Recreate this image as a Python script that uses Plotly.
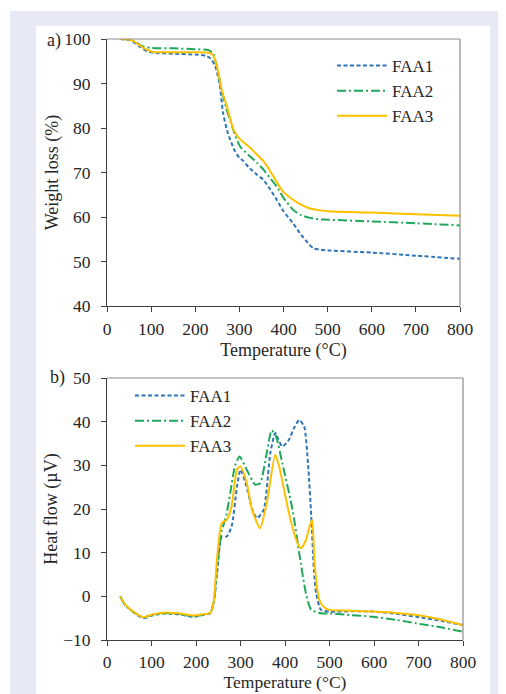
import plotly.graph_objects as go

# ---------------- Data ----------------
tga_t1 = [30, 50, 60, 75, 90, 105, 150, 200, 225, 235, 245, 255, 263, 272, 279, 290, 300, 309, 320, 340, 354, 370, 385, 400, 420, 437, 455, 467, 480, 500, 600, 700, 800]
tga_v1 = [100, 99.8, 99.3, 98.2, 97.3, 96.9, 96.7, 96.5, 96.2, 95.6, 94.0, 90.0, 83.4, 79.5, 77.4, 74.8, 73.3, 72.6, 71.3, 69.5, 68.4, 66.2, 63.8, 61.3, 58.8, 56.4, 54.2, 53.0, 52.7, 52.5, 52.0, 51.3, 50.6]

tga_t2 = [30, 50, 65, 80, 100, 150, 200, 230, 240, 250, 260, 270, 280, 290, 302, 320, 340, 355, 370, 385, 400, 422, 440, 460, 480, 500, 600, 700, 800]
tga_v2 = [100, 99.9, 99.3, 98.4, 98.0, 97.9, 97.7, 97.5, 96.8, 93.5, 88.5, 84.5, 81.5, 78.5, 75.8, 74.0, 72.2, 70.6, 68.7, 66.8, 64.3, 61.6, 60.4, 59.8, 59.5, 59.4, 59.0, 58.6, 58.1]

tga_t3 = [30, 50, 60, 75, 90, 105, 150, 200, 230, 240, 250, 260, 272, 286, 300, 324, 340, 354, 370, 385, 399, 420, 440, 460, 476, 500, 600, 700, 800]
tga_v3 = [100, 99.9, 99.5, 98.5, 97.6, 97.1, 97.0, 97.0, 96.9, 96.4, 93.5, 88.5, 84.8, 79.8, 77.6, 75.6, 74.0, 72.6, 70.3, 67.8, 65.7, 64.0, 62.8, 61.9, 61.6, 61.3, 61.0, 60.6, 60.3]

dta_t1 = [30, 40, 60, 82, 100, 130, 160, 195, 215, 232, 240, 248, 258, 269, 280, 292, 300, 314, 326, 337, 352, 367, 378, 385, 394, 409, 420, 432, 443, 452, 459, 465, 470, 481, 500, 550, 598, 650, 696, 750, 800]
dta_v1 = [0, -1.9, -3.7, -5.0, -4.4, -3.9, -4.1, -4.7, -4.3, -3.9, -1.5, 6.0, 13.7, 13.7, 16.0, 25.0, 29.0, 25.0, 20.0, 17.9, 19.8, 32.8, 37.4, 36.0, 34.3, 35.9, 38.5, 40.4, 38.9, 30.0, 18.3, 6.0, 0.7, -3.1, -3.5, -3.4, -3.5, -4.0, -4.7, -5.6, -6.6]

dta_t2 = [30, 40, 60, 82, 100, 130, 160, 195, 215, 232, 240, 248, 258, 268, 277, 288, 298, 314, 333, 344, 359, 370, 380, 394, 417, 432, 447, 459, 481, 500, 550, 598, 650, 696, 750, 800]
dta_v2 = [0, -1.9, -3.6, -4.8, -4.3, -3.9, -4.0, -4.6, -4.2, -3.8, -1.0, 7.5, 15.0, 18.5, 23.7, 30.0, 32.0, 29.0, 25.6, 25.9, 32.8, 38.0, 36.6, 30.5, 19.8, 9.9, 0.7, -3.1, -3.9, -3.9, -4.3, -4.7, -5.4, -6.2, -7.1, -8.1]

dta_t3 = [30, 40, 60, 82, 100, 130, 160, 195, 215, 232, 240, 247, 258, 269, 280, 292, 300, 314, 326, 344, 359, 378, 387, 409, 425, 436, 447, 455, 461, 466, 472, 477, 488, 500, 550, 598, 650, 696, 750, 800]
dta_v3 = [0, -1.8, -3.6, -4.8, -4.2, -3.7, -3.9, -4.4, -4.1, -3.8, -1.0, 8.4, 16.8, 17.5, 20.6, 29.0, 29.8, 26.0, 19.8, 15.6, 21.4, 32.4, 29.7, 19.0, 13.0, 11.0, 12.9, 16.0, 17.5, 8.3, 2.0, -0.8, -2.5, -3.1, -3.3, -3.5, -3.8, -4.3, -5.3, -6.6]

series_names = ["FAA1", "FAA2", "FAA3"]
x_ticks = [0, 100, 200, 300, 400, 500, 600, 700, 800]
tga_ticks = [40, 50, 60, 70, 80, 90, 100]
dta_ticks = [-10, 0, 10, 20, 30, 40, 50]

# ---------------- Styling ----------------
OFF = 8  # page body margin
PAGE_W, PAGE_H = 506, 694
EXTRA = 12  # room below the page edge so the lower axis title is not squeezed
W, H = PAGE_W - OFF, PAGE_H - OFF + EXTRA
# plot area in page pixels
P_L, P_R, P_T, P_B = 107, 463, 39, 640
ML, MR, MT, MB = P_L - OFF, W - (P_R - OFF), P_T - OFF, H - (P_B - OFF)
PW, PH = W - ML - MR, H - MT - MB
FONT = "Liberation Serif"
TXT = "#262626"
colors = ["#2e75b6", "#1fa85a", "#ffc000"]
dashes = ["4px,2.5px", "9px,3px,2px,3px", "solid"]


def px_x(p):
    return (p - OFF - ML) / PW


def px_y(p):
    return (H - MB - (p - OFF)) / PH


fig = go.Figure()

tga = [(tga_t1, tga_v1), (tga_t2, tga_v2), (tga_t3, tga_v3)]
dta = [(dta_t1, dta_v1), (dta_t2, dta_v2), (dta_t3, dta_v3)]

for i, (t, v) in enumerate(tga):
    fig.add_trace(go.Scatter(
        x=t, y=v, mode="lines", name=series_names[i], xaxis="x", yaxis="y",
        line=dict(color=colors[i], width=2, dash=dashes[i], shape="spline", smoothing=0.6),
        legend="legend"))
for i, (t, v) in enumerate(dta):
    fig.add_trace(go.Scatter(
        x=t, y=v, mode="lines", name=series_names[i], xaxis="x2", yaxis="y2",
        line=dict(color=colors[i], width=2, dash=dashes[i], shape="spline", smoothing=0.6),
        legend="legend2"))

dom_a = [px_y(306), px_y(39)]
dom_b = [px_y(640), px_y(378)]

TICK_FONT = dict(family=FONT, size=17.5, color=TXT)
TITLE_FONT = dict(family=FONT, size=18, color=TXT)
TITLE_FONT_B = dict(family=FONT, size=17.5, color=TXT)
LEG_FONT = dict(family=FONT, size=17, color=TXT)

axis_common = dict(
    showgrid=False, zeroline=False, showline=True, linecolor="#404040", linewidth=1,
    ticks="outside", ticklen=5, tickcolor="#404040", tickwidth=1,
    tickfont=TICK_FONT, automargin=False,
)

fig.update_layout(
    width=W, height=H,
    margin=dict(l=ML, r=MR, t=MT, b=MB, autoexpand=False),
    paper_bgcolor="white", plot_bgcolor="white",
    showlegend=True,
    xaxis=dict(domain=[0, px_x(460)], range=[0, 800], tickvals=x_ticks, anchor="y", ticklabelstandoff=2,
               title=dict(text="Temperature (°C)", font=TITLE_FONT, standoff=5),
               **axis_common),
    yaxis=dict(domain=dom_a, range=[40, 100], tickvals=tga_ticks, anchor="x", ticklabelstandoff=7,
               title=dict(text="Weight loss (%)", font=TITLE_FONT, standoff=0),
               **axis_common),
    xaxis2=dict(domain=[0, 1], range=[0, 800], tickvals=x_ticks, anchor="y2", ticklabelstandoff=1,
                title=dict(text="Temperature (°C)", font=TITLE_FONT_B, standoff=3),
                **axis_common),
    yaxis2=dict(domain=dom_b, range=[-10, 50], tickvals=dta_ticks, anchor="x2", ticklabelstandoff=7,
                title=dict(text="Heat flow (µV)", font=TITLE_FONT, standoff=0),
                **axis_common),
    legend=dict(x=px_x(332), y=px_y(48), xanchor="left", yanchor="top",
                bgcolor="rgba(0,0,0,0)", font=LEG_FONT, tracegroupgap=0, itemwidth=50),
    legend2=dict(x=px_x(130), y=px_y(378), xanchor="left", yanchor="top",
                 bgcolor="rgba(0,0,0,0)", font=LEG_FONT, tracegroupgap=0, itemwidth=50),
)

shapes = [
    # outer light band
    dict(type="rect", xref="paper", yref="paper", x0=px_x(10), x1=px_x(PAGE_W + 20), y0=px_y(PAGE_H + 30), y1=px_y(11),
         fillcolor="#e7eaf5", line=dict(width=0), layer="below"),
    # white panel
    dict(type="rect", xref="paper", yref="paper", x0=px_x(36), x1=px_x(490), y0=px_y(PAGE_H + 30), y1=px_y(26),
         fillcolor="white", line=dict(width=0), layer="below"),
]
for xr, yr in [("x", "y"), ("x2", "y2")]:
    shapes.append(dict(type="line", xref=xr + " domain", yref=yr + " domain", x0=0, x1=1, y0=1, y1=1,
                       line=dict(color="#8c8c8c", width=1.2)))
    shapes.append(dict(type="line", xref=xr + " domain", yref=yr + " domain", x0=1, x1=1, y0=0, y1=1,
                       line=dict(color="#8c8c8c", width=1.2)))
fig.update_layout(shapes=shapes)

fig.add_annotation(text="a)", xref="paper", yref="paper", x=px_x(45), y=px_y(40), xanchor="left",
                   yanchor="middle", showarrow=False, font=TITLE_FONT)
fig.add_annotation(text="b)", xref="paper", yref="paper", x=px_x(48), y=px_y(378), xanchor="left",
                   yanchor="middle", showarrow=False, font=TITLE_FONT)

fig.write_html("out.html")
